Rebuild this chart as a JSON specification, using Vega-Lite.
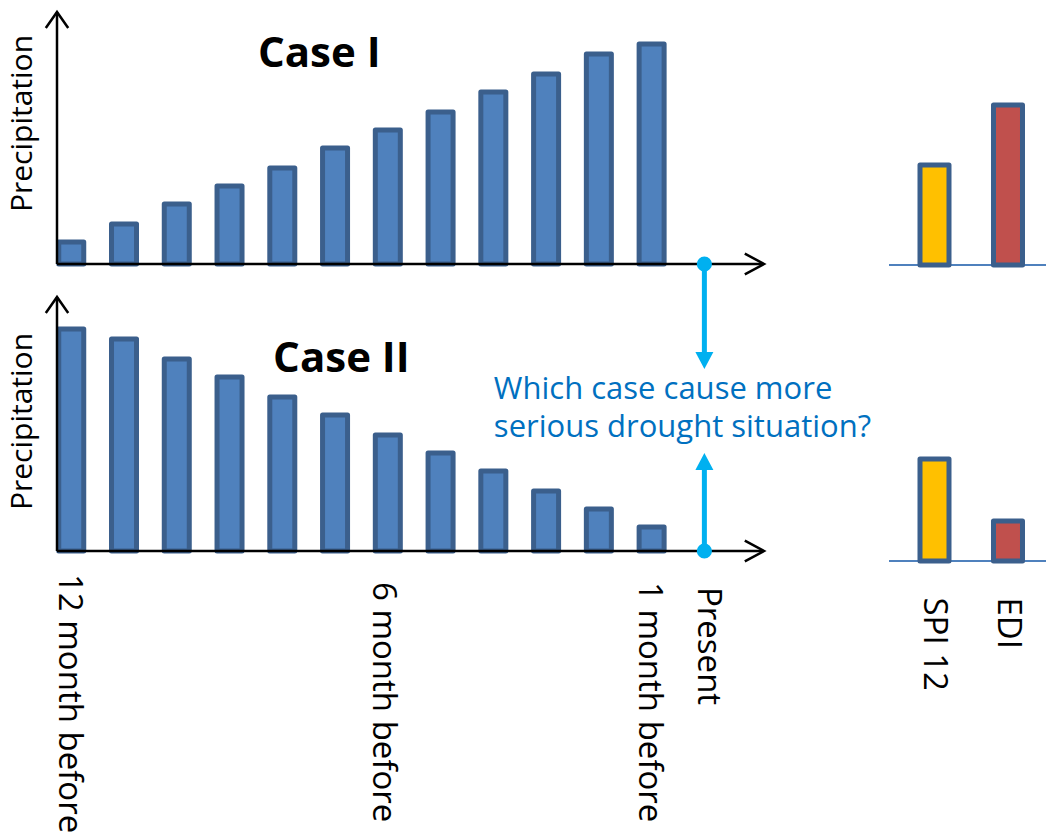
{
  "$schema": "https://vega.github.io/schema/vega-lite/v6.json",
  "padding": {"left": 7, "top": 7, "right": 0, "bottom": 0},
  "bounds": "flush",
  "columns": 2,
  "spacing": {"row": 32, "column": 125},
  "resolve": {"scale": {"x": "independent", "y": "independent", "fill": "independent"}},
  "config": {"view": {"stroke": null}, "font": "Open Sans"},
  "datasets": {
    "caseI": [
      {"months_before": 12, "precipitation": 11},
      {"months_before": 11, "precipitation": 20},
      {"months_before": 10, "precipitation": 30},
      {"months_before": 9, "precipitation": 39},
      {"months_before": 8, "precipitation": 48},
      {"months_before": 7, "precipitation": 58},
      {"months_before": 6, "precipitation": 67},
      {"months_before": 5, "precipitation": 76},
      {"months_before": 4, "precipitation": 86},
      {"months_before": 3, "precipitation": 95},
      {"months_before": 2, "precipitation": 105},
      {"months_before": 1, "precipitation": 110}
    ],
    "caseII": [
      {"months_before": 12, "precipitation": 111},
      {"months_before": 11, "precipitation": 106},
      {"months_before": 10, "precipitation": 96},
      {"months_before": 9, "precipitation": 87},
      {"months_before": 8, "precipitation": 77},
      {"months_before": 7, "precipitation": 68},
      {"months_before": 6, "precipitation": 58},
      {"months_before": 5, "precipitation": 49},
      {"months_before": 4, "precipitation": 40},
      {"months_before": 3, "precipitation": 30},
      {"months_before": 2, "precipitation": 21},
      {"months_before": 1, "precipitation": 12}
    ],
    "indexI": [
      {"index": "SPI 12", "value": 50},
      {"index": "EDI", "value": 80}
    ],
    "indexII": [
      {"index": "SPI 12", "value": 51},
      {"index": "EDI", "value": 20}
    ],
    "one": [{"id": 1}]
  },
  "concat": [
    {
      "width": 707,
      "height": 252,
      "layer": [
        {
          "data": {"name": "caseI"},
          "mark": {"type": "bar", "width": 25, "fill": "#4f81bd", "stroke": "#3b5f8c", "strokeWidth": 5, "strokeJoin": "round"},
          "encoding": {
            "x": {"field": "months_before", "type": "quantitative",
                  "scale": {"domain": [-1.13, 12.27], "reverse": true, "nice": false, "zero": false, "padding": 0}, "axis": null},
            "y": {"field": "precipitation", "type": "quantitative",
                  "scale": {"domain": [0, 126], "nice": false, "zero": false, "padding": 0}, "axis": null}
          }
        },
        {
          "data": {"name": "one"},
          "mark": {"type": "rule", "color": "black", "strokeWidth": 2.5},
          "encoding": {"x": {"datum": 12.27, "axis": null}, "y": {"datum": 0, "axis": null}, "y2": {"datum": 126}}
        },
        {
          "data": {"name": "one"},
          "mark": {"type": "rule", "color": "black", "strokeWidth": 2.5},
          "encoding": {"y": {"datum": 0, "axis": null}, "x": {"datum": 12.27, "axis": null}, "x2": {"datum": -1.13}}
        },
        {
          "data": {"name": "one"},
          "mark": {"type": "point", "shape": "M-0.7,1L0,0L0.7,1", "size": 1024, "filled": false, "stroke": "black", "strokeWidth": 2.5, "opacity": 1},
          "encoding": {"x": {"datum": 12.27, "axis": null}, "y": {"datum": 126, "axis": null}}
        },
        {
          "data": {"name": "one"},
          "mark": {"type": "point", "shape": "M-1.2,-0.65L0,0L-1.2,0.65", "size": 1024, "filled": false, "stroke": "black", "strokeWidth": 2.5, "opacity": 1},
          "encoding": {"x": {"datum": -1.13, "axis": null}, "y": {"datum": 0, "axis": null}}
        },
        {
          "data": {"name": "one"},
          "mark": {"type": "rule", "color": "#00b0f0", "strokeWidth": 5},
          "encoding": {"x": {"datum": 0, "axis": null}, "y": {"datum": 0, "axis": null}, "y2": {"datum": -44}}
        },
        {
          "data": {"name": "one"},
          "mark": {"type": "point", "shape": "M0,0L-1,-1.9L1,-1.9Z", "size": 324, "filled": true, "color": "#00b0f0", "opacity": 1},
          "encoding": {"x": {"datum": 0, "axis": null}, "y": {"datum": -52.5, "axis": null}}
        },
        {
          "data": {"name": "one"},
          "mark": {"type": "point", "shape": "circle", "size": 230, "filled": true, "color": "#00b0f0", "opacity": 1},
          "encoding": {"x": {"datum": 0, "axis": null}, "y": {"datum": 0, "axis": null}}
        },
        {
          "data": {"name": "one"},
          "mark": {"type": "text", "text": "Case I", "font": "Open Sans", "fontSize": 42, "fontWeight": "bold", "color": "black", "align": "center", "baseline": "alphabetic"},
          "encoding": {"x": {"datum": 7.3, "axis": null}, "y": {"datum": 98.5, "axis": null}}
        },
        {
          "data": {"name": "one"},
          "mark": {"type": "text", "text": "Precipitation", "font": "Open Sans", "fontSize": 30, "color": "black", "angle": 270, "align": "center", "baseline": "alphabetic"},
          "encoding": {"x": {"datum": 12.744, "axis": null}, "y": {"datum": 70.25, "axis": null}}
        }
      ]
    },
    {
      "width": 157,
      "height": 253,
      "data": {"name": "indexI"},
      "layer": [
        {
          "mark": {"type": "rule", "color": "#4f81bd", "strokeWidth": 2},
          "encoding": {"y": {"datum": 0, "axis": null}}
        },
        {
          "mark": {"type": "bar", "width": 29, "stroke": "#3b5f8c", "strokeWidth": 5, "strokeJoin": "round"},
          "encoding": {
            "x": {"field": "index", "type": "nominal", "sort": ["SPI 12", "EDI"],
                  "scale": {"paddingInner": 0, "paddingOuter": 0.068, "align": 0.875}, "axis": null},
            "y": {"field": "value", "type": "quantitative", "scale": {"domain": [0, 126.5], "nice": false, "zero": false}, "axis": null},
            "fill": {"field": "index", "type": "nominal", "scale": {"domain": ["SPI 12", "EDI"], "range": ["#ffc000", "#c0504d"]}, "legend": null}
          }
        }
      ]
    },
    {
      "width": 707,
      "height": 254,
      "layer": [
        {
          "data": {"name": "caseII"},
          "mark": {"type": "bar", "width": 25, "fill": "#4f81bd", "stroke": "#3b5f8c", "strokeWidth": 5, "strokeJoin": "round"},
          "encoding": {
            "x": {"field": "months_before", "type": "quantitative",
                  "scale": {"domain": [-1.13, 12.27], "reverse": true, "nice": false, "zero": false, "padding": 0}, "axis": null},
            "y": {"field": "precipitation", "type": "quantitative",
                  "scale": {"domain": [0, 127], "nice": false, "zero": false, "padding": 0}, "axis": null}
          }
        },
        {
          "data": {"name": "one"},
          "mark": {"type": "rule", "color": "black", "strokeWidth": 2.5},
          "encoding": {"x": {"datum": 12.27, "axis": null}, "y": {"datum": 0, "axis": null}, "y2": {"datum": 127}}
        },
        {
          "data": {"name": "one"},
          "mark": {"type": "rule", "color": "black", "strokeWidth": 2.5},
          "encoding": {"y": {"datum": 0, "axis": null}, "x": {"datum": 12.27, "axis": null}, "x2": {"datum": -1.13}}
        },
        {
          "data": {"name": "one"},
          "mark": {"type": "point", "shape": "M-0.7,1L0,0L0.7,1", "size": 1024, "filled": false, "stroke": "black", "strokeWidth": 2.5, "opacity": 1},
          "encoding": {"x": {"datum": 12.27, "axis": null}, "y": {"datum": 127, "axis": null}}
        },
        {
          "data": {"name": "one"},
          "mark": {"type": "point", "shape": "M-1.2,-0.65L0,0L-1.2,0.65", "size": 1024, "filled": false, "stroke": "black", "strokeWidth": 2.5, "opacity": 1},
          "encoding": {"x": {"datum": -1.13, "axis": null}, "y": {"datum": 0, "axis": null}}
        },
        {
          "data": {"name": "one"},
          "mark": {"type": "rule", "color": "#00b0f0", "strokeWidth": 5},
          "encoding": {"x": {"datum": 0, "axis": null}, "y": {"datum": 0, "axis": null}, "y2": {"datum": 40.5}}
        },
        {
          "data": {"name": "one"},
          "mark": {"type": "point", "shape": "M0,0L-1,1.9L1,1.9Z", "size": 324, "filled": true, "color": "#00b0f0", "opacity": 1},
          "encoding": {"x": {"datum": 0, "axis": null}, "y": {"datum": 49, "axis": null}}
        },
        {
          "data": {"name": "one"},
          "mark": {"type": "point", "shape": "circle", "size": 230, "filled": true, "color": "#00b0f0", "opacity": 1},
          "encoding": {"x": {"datum": 0, "axis": null}, "y": {"datum": 0, "axis": null}}
        },
        {
          "data": {"name": "one"},
          "mark": {"type": "text", "text": "Case II", "font": "Open Sans", "fontSize": 42, "fontWeight": "bold", "color": "black", "align": "center", "baseline": "alphabetic"},
          "encoding": {"x": {"datum": 6.88, "axis": null}, "y": {"datum": 89.5, "axis": null}}
        },
        {
          "data": {"name": "one"},
          "mark": {"type": "text", "text": ["Which case cause more", "serious drought situation?"], "font": "Open Sans", "fontSize": 31, "lineHeight": 38, "color": "#0070c0", "align": "left", "baseline": "alphabetic"},
          "encoding": {"x": {"datum": 3.99, "axis": null}, "y": {"datum": 76, "axis": null}}
        },
        {
          "data": {"name": "one"},
          "mark": {"type": "text", "text": "Precipitation", "font": "Open Sans", "fontSize": 30, "color": "black", "angle": 270, "align": "center", "baseline": "alphabetic"},
          "encoding": {"x": {"datum": 12.744, "axis": null}, "y": {"datum": 64.75, "axis": null}}
        },
        {
          "data": {"name": "one"},
          "mark": {"type": "text", "text": "12 month before", "font": "Open Sans", "fontSize": 33, "color": "black", "angle": 90, "align": "left", "baseline": "middle"},
          "encoding": {"x": {"datum": 12.05, "axis": null}, "y": {"datum": -11.5, "axis": null}}
        },
        {
          "data": {"name": "one"},
          "mark": {"type": "text", "text": "6 month before", "font": "Open Sans", "fontSize": 33, "color": "black", "angle": 90, "align": "left", "baseline": "middle"},
          "encoding": {"x": {"datum": 6.09, "axis": null}, "y": {"datum": -15.5, "axis": null}}
        },
        {
          "data": {"name": "one"},
          "mark": {"type": "text", "text": "1 month before", "font": "Open Sans", "fontSize": 33, "color": "black", "angle": 90, "align": "left", "baseline": "middle"},
          "encoding": {"x": {"datum": 1.05, "axis": null}, "y": {"datum": -15.5, "axis": null}}
        },
        {
          "data": {"name": "one"},
          "mark": {"type": "text", "text": "Present", "font": "Open Sans", "fontSize": 33, "color": "black", "angle": 90, "align": "left", "baseline": "middle"},
          "encoding": {"x": {"datum": -0.06, "axis": null}, "y": {"datum": -18, "axis": null}}
        }
      ]
    },
    {
      "width": 157,
      "height": 264,
      "data": {"name": "indexII"},
      "layer": [
        {
          "mark": {"type": "rule", "color": "#4f81bd", "strokeWidth": 2},
          "encoding": {"y": {"datum": 0, "axis": null}}
        },
        {
          "mark": {"type": "bar", "width": 29, "stroke": "#3b5f8c", "strokeWidth": 5, "strokeJoin": "round"},
          "encoding": {
            "x": {"field": "index", "type": "nominal", "sort": ["SPI 12", "EDI"],
                  "scale": {"paddingInner": 0, "paddingOuter": 0.068, "align": 0.875},
                  "axis": {"domain": false, "ticks": false, "grid": false, "title": null,
                           "labelAngle": 90, "labelAlign": "left", "labelBaseline": "middle",
                           "labelFont": "Open Sans", "labelFontSize": 33, "labelColor": "black", "labelPadding": 36}},
            "y": {"field": "value", "type": "quantitative", "scale": {"domain": [0, 132], "nice": false, "zero": false}, "axis": null},
            "fill": {"field": "index", "type": "nominal", "scale": {"domain": ["SPI 12", "EDI"], "range": ["#ffc000", "#c0504d"]}, "legend": null}
          }
        }
      ]
    }
  ]
}
